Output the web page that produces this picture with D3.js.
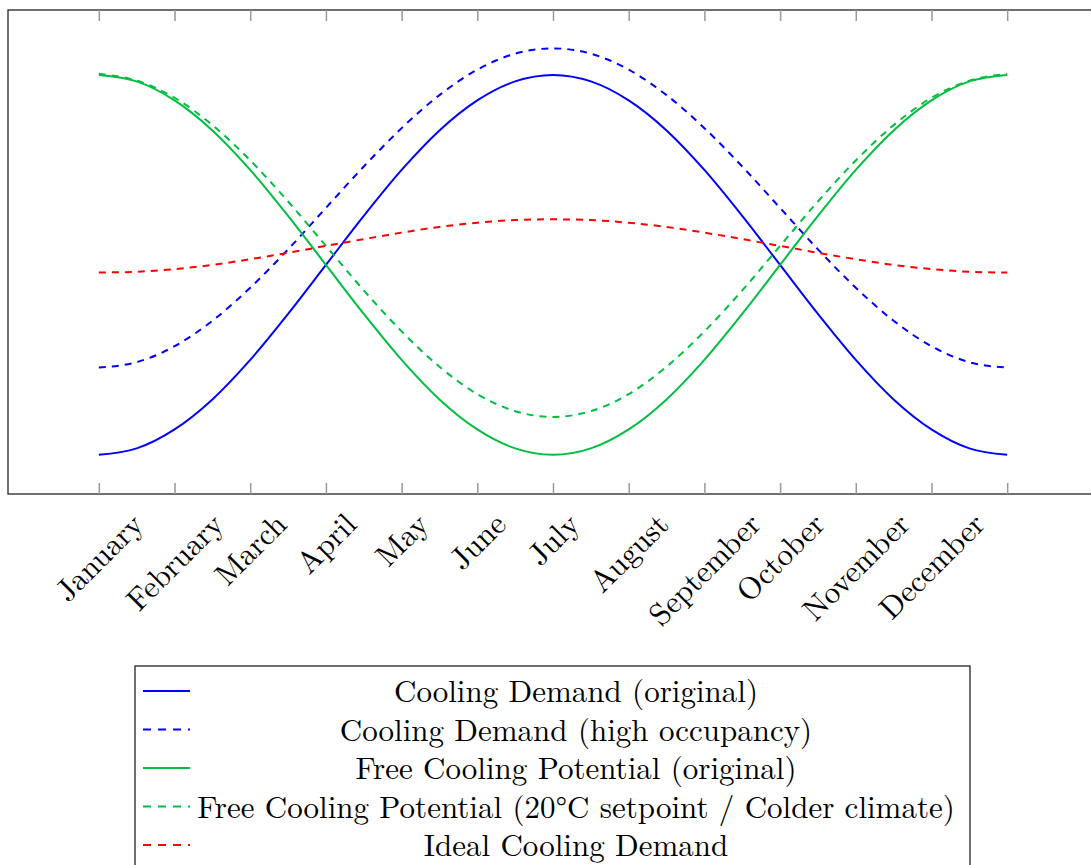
<!DOCTYPE html>
<html>
<head>
<meta charset="utf-8">
<script src="https://cdn.jsdelivr.net/npm/d3@7"></script>
<style>
  body { margin: 0; background: #fff; }
  svg { display: block; }
  text { font-family: "Latin Modern Roman", "CMU Serif", "Liberation Serif", "Times New Roman", serif; fill: #000; }
</style>
</head>
<body>
<div id="chart"></div>
<script>

// month labels (the 13th tick at the end has no label)
const months = ["January", "February", "March", "April", "May", "June", "July",
	"August", "September", "October", "November", "December"];

// x positions of the read values, in months from January (half-month steps)
const xs = d3.range(0, 12.5, 0.5);

// values at each half month
const coolingOriginal = [0, 1.7, 6.7, 14.6, 25, 37.1, 50, 62.9, 75, 85.4, 93.3, 98.3, 100,
	98.3, 93.3, 85.4, 75, 62.9, 50, 37.1, 25, 14.6, 6.7, 1.7, 0];
const coolingHigh = [23, 24.4, 28.6, 35.3, 44, 54.1, 65, 75.9, 86, 94.7, 101.4, 105.6, 107,
	105.6, 101.4, 94.7, 86, 75.9, 65, 54.1, 44, 35.3, 28.6, 24.4, 23];
const freeOriginal = [100, 98.3, 93.3, 85.4, 75, 62.9, 50, 37.1, 25, 14.6, 6.7, 1.7, 0,
	1.7, 6.7, 14.6, 25, 37.1, 50, 62.9, 75, 85.4, 93.3, 98.3, 100];
const freeColder = [100.3, 98.5, 94, 86.8, 77.5, 66.7, 55, 43.3, 32.5, 23.2, 16, 11.5, 10,
	11.5, 16, 23.2, 32.5, 43.3, 55, 66.7, 77.5, 86.8, 94, 98.5, 100.3];
const idealCooling = [48, 48.2, 48.9, 50, 51.5, 53.2, 55, 56.8, 58.5, 60, 61.1, 61.8, 62,
	61.8, 61.1, 60, 58.5, 56.8, 55, 53.2, 51.5, 50, 48.9, 48.2, 48];

const seriesNames = [
	"Cooling Demand (original)",
	"Cooling Demand (high occupancy)",
	"Free Cooling Potential (original)",
	"Free Cooling Potential (20°C setpoint / Colder climate)",
	"Ideal Cooling Demand"
];

const width = 1091;
const height = 865;

const series = [
	{ name: seriesNames[0], values: coolingOriginal, color: "#0000ff", dash: null },
	{ name: seriesNames[1], values: coolingHigh, color: "#0000ff", dash: "7,6" },
	{ name: seriesNames[2], values: freeOriginal, color: "#00bf40", dash: null },
	{ name: seriesNames[3], values: freeColder, color: "#00bf40", dash: "7,6" },
	{ name: seriesNames[4], values: idealCooling, color: "#ff0000", dash: "7,6" }
];

// plot frame
const box = { left: 8, top: 10, right: 1098, bottom: 494 };

const xScale = d3.scaleLinear()
	.domain([-1.2, 13.2])
	.range([box.left, box.right]);

const yScale = d3.scaleLinear()
	.domain([-10.3, 117.1])
	.range([box.bottom, box.top]);

let svg = d3.select("#chart")
	.append("svg")
	.attr("width", width)
	.attr("height", height);

svg.append("rect")
	.attr("x", box.left)
	.attr("y", box.top)
	.attr("width", box.right - box.left)
	.attr("height", box.bottom - box.top)
	.attr("fill", "none")
	.attr("stroke", "#222")
	.attr("stroke-width", 1.3);

const tickVals = d3.range(13);

// bottom axis with month labels
const xAxis = svg.append("g")
	.attr("transform", `translate(0, ${box.bottom})`)
	.call(d3.axisBottom(xScale)
		.tickValues(tickVals)
		.tickSize(-11)
		.tickFormat((i) => months[i] || ""));

// top axis, ticks only
const xAxisTop = svg.append("g")
	.attr("transform", `translate(0, ${box.top})`)
	.call(d3.axisTop(xScale)
		.tickValues(tickVals)
		.tickSize(-11)
		.tickFormat(""));

[xAxis, xAxisTop].forEach((g) => {
	g.select(".domain").remove();
	g.selectAll(".tick line")
		.attr("stroke", "#999")
		.attr("stroke-width", 1.5);
});

// rotate labels 45 degrees, centred on their tick
xAxis.selectAll(".tick text")
	.attr("font-size", 31)
	.attr("text-anchor", "middle")
	.attr("dominant-baseline", "central")
	.attr("dy", null)
	.attr("y", 0)
	.attr("transform", function() {
		const len = this.getComputedTextLength();
		return `translate(-2, ${23 + len * 0.354}) rotate(-45)`;
	});

const makeLine = d3.line()
	.x((d, i) => xScale(xs[i]))
	.y((d) => yScale(d))
	.curve(d3.curveMonotoneX);

svg.append("g").selectAll("path").data(series).enter()
	.append("path")
		.attr("fill", "none")
		.attr("stroke", (d) => d.color)
		.attr("stroke-width", 2)
		.attr("stroke-dasharray", (d) => d.dash)
		.attr("d", (d) => makeLine(d.values));

// legend
const legend = svg.append("g");

legend.append("rect")
	.attr("x", 135)
	.attr("y", 666)
	.attr("width", 835)
	.attr("height", 240)
	.attr("fill", "#fff")
	.attr("stroke", "#222")
	.attr("stroke-width", 1.3);

const rowY = d3.scalePoint()
	.domain(seriesNames)
	.range([691, 845]);

const rows = legend.selectAll("g.row").data(series).enter()
	.append("g")
	.attr("class", "row")
	.attr("transform", (d) => `translate(0, ${rowY(d.name)})`);

rows.append("line")
	.attr("x1", 143)
	.attr("x2", 190)
	.attr("stroke", (d) => d.color)
	.attr("stroke-width", 2)
	.attr("stroke-dasharray", (d) => d.dash ? "8,7" : null);

rows.append("text")
	.attr("x", 576)
	.attr("y", -2)
	.attr("text-anchor", "middle")
	.attr("dominant-baseline", "central")
	.attr("font-size", 31)
	.text((d) => d.name);

</script>
</body>
</html>
